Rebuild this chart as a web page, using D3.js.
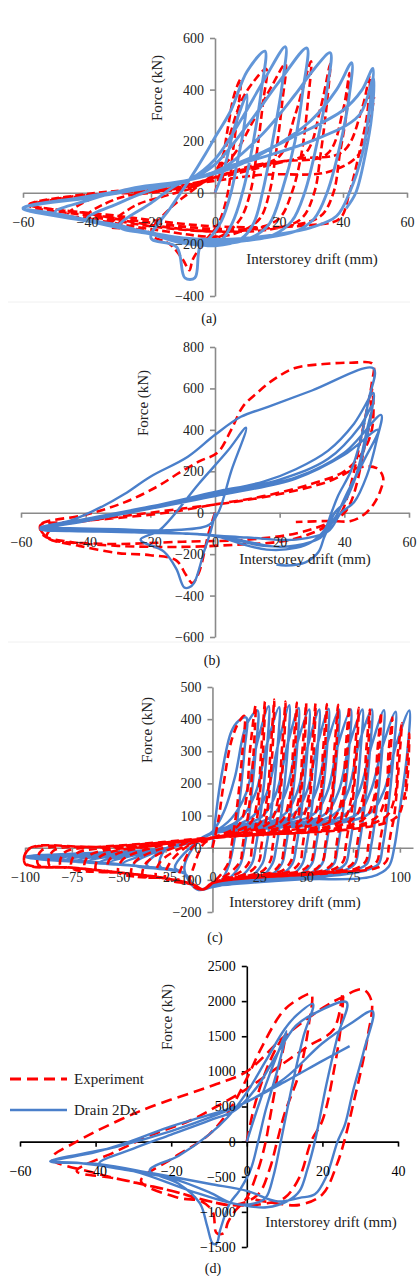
<!DOCTYPE html>
<html>
<head>
<meta charset="utf-8">
<script src="https://cdn.jsdelivr.net/npm/d3@7"></script>
<style>
  body { margin: 0; background: #fff; }
  svg { display: block; }
  text { font-family: "Liberation Serif", "Times New Roman", serif; }
</style>
</head>
<body>
<svg id="chart" width="418" height="1276"></svg>
<script>
// ---- (a) ----
const aXTicks = [-60, -40, -20, 0, 20, 40, 60];
const aYTicks = [-400, -200, 0, 200, 400, 600];
const aExp = [
  [0,0],[2,100],[4,250],[6,380],[8,440],
  [7,300],[5.5,150],[4,0],[1,-120],[-4,-200],[-7,-260],[-8,-300],[-10,-260],[-14,-200],[-20,-160],
  [-14,-60],[-8,0],[-4,40],[0,80],[4,200],[8,350],[12,430],[16,480],
  [15,350],[13,150],[11,0],[8,-100],[3,-160],[-5,-190],[-15,-170],[-25,-140],[-33,-130],
  [-25,-50],[-15,-10],[-5,30],[0,80],[6,150],[12,280],[18,420],[22,500],
  [21,350],[19,150],[17,0],[14,-100],[8,-150],[0,-170],[-15,-150],[-30,-120],[-40,-90],
  [-30,-20],[-20,0],[-8,20],[0,60],[10,100],[20,140],[25,300],[30,510],
  [29,350],[27,150],[24,0],[20,-100],[12,-140],[0,-150],[-20,-130],[-35,-100],[-46,-85],
  [-36,-10],[-25,0],[-10,20],[0,60],[15,110],[28,150],[33,330],[36,500],
  [35,350],[33,150],[31,0],[27,-100],[18,-140],[0,-150],[-20,-125],[-40,-80],[-58,-46],
  [-45,-15],[-30,0],[-10,25],[0,60],[20,120],[35,150],[40,320],[42,464],
  [41,300],[39,150],[37,0],[33,-90],[22,-130],[0,-140],[-30,-100],[-58,-50],
  [-40,-10],[-20,10],[0,55],[25,130],[40,160],[46,330],[48.4,456],
  [47.5,300],[45,150],[42,0],[39,-100],[30,-125],[0,-130],[-30,-90],[-58,-45],
  [-40,-5],[-10,30],[15,70],[35,80],[45,150],[49.7,372]
];
const aModel = [
  [0,0],[3,100],[6,250],[10,380],
  [9,250],[7,120],[5,0],[2,-110],[-2,-180],[-4.7,-210],[-6.3,-330],[-9.4,-330],[-12,-210],[-20,-175],
  [-14,-60],[-8,50],[-3,150],[0,215],[5,320],[10,470],[15.6,549],
  [14.5,400],[12,200],[9,20],[6,-100],[3,-170],[0,-200],[-10,-195],[-20,-160],[-30,-130],
  [-20,-40],[-12,30],[-8,50],[0,130],[8,280],[15,430],[22,566],
  [21,420],[18,200],[15,10],[12,-120],[8,-180],[0,-205],[-10,-190],[-20,-160],[-30,-125],[-40,-100],
  [-30,-40],[-20,10],[-8,50],[0,110],[10,260],[20,430],[28.7,561],
  [27.5,400],[25,200],[21,10],[17,-120],[12,-170],[5,-195],[-5,-195],[-20,-160],[-35,-115],[-50,-75],
  [-40,-30],[-25,20],[-8,50],[3,100],[15,230],[25,380],[31,480],[36,543],
  [35,400],[32,200],[28,0],[24,-110],[18,-165],[10,-185],[0,-195],[-15,-170],[-30,-130],[-45,-95],[-60,-62],
  [-45,-25],[-30,5],[-15,30],[-8,50],[5,95],[20,190],[30,280],[38,400],[42.7,504],
  [42,380],[39,180],[35,0],[31,-100],[25,-150],[15,-175],[0,-190],[-20,-160],[-40,-110],[-60,-60],
  [-40,-20],[-20,20],[-8,50],[10,130],[25,220],[40,320],[46,400],[49.3,482],
  [48.5,350],[46,150],[42,0],[38,-90],[30,-135],[20,-160],[5,-180],[-10,-175],[-30,-130],[-50,-80],[-60,-58],
  [-40,-15],[-20,25],[-8,50],[10,120],[30,200],[45,300],[49.5,445],
  [49,300],[47,150],[44,0],[41,-60]
];

// ---- (b) ----
const bXTicks = [-60, -40, -20, 0, 20, 40, 60];
const bYTicks = [-600, -400, -200, 0, 200, 400, 600, 800];
const bExp = [
  [0,0],[-2,-100],[-5,-290],[-7,-340],[-9,-300],[-12,-230],[-20,-205],[-30,-195],[-42,-160],[-52,-120],[-54,-60],
  [-40,-10],[-28,50],[-18,125],[-11,193],[-4.6,250],[0.8,290],[5,400],[8.6,512],[13,578],[18,641],[24.5,697],[33.7,718],[42,724],[48.8,718],
  [48.5,627],[47,500],[45,350],[43,200],[41,80],[39,0],[35,-60],[28,-110],[20,-140],[6,-155],[-10,-165],[-30,-160],[-45,-140],[-53,-110],
  [-54,-60],[-45,-45],[-30,-25],[-15,0],[0,40],[15,80],[30,140],[40,200],[46,300],[48.5,400],[49,520],[48.5,600],
  [48,450],[46,300],[44,150],[42,50],[40,0],[35,-50],[25,-100],[10,-130],[-10,-140],[-35,-150],[-52,-120],
  [-50,-70],[-40,-40],[-25,-10],[-10,20],[5,50],[20,90],[35,150],[45,220],[50,215],[52,170],[51,100],[49,40],[46,-10],[42,-40],[35,-40],[25,-45]
];
const bModel = [
  [0,0],[-1.2,-82],[-3.4,-188],[-6.5,-340],[-8,-361],[-9.5,-361],[-12,-270],[-15.8,-188],[-23,-130],
  [-17,-82],[-5,140],[4,300],[9.6,410],
  [5,200],[1,0],[-2,-60],[-15,-85],[-30,-80],[-45,-75],[-54,-70],
  [-45,-40],[-35,29],[-28,90],[-20,174],[-8.4,270],[0,376],[8,463],[16.4,511],[30,590],[49,697],
  [47.5,545],[45,350],[42,200],[38,80],[36,0],[34,-80],[30,-140],[25,-170],[16,-178],[8,-150],[1,-116],[-10,-100],[-30,-90],[-54,-80],
  [-40,-30],[-20,30],[0,100],[15,150],[25,210],[35,300],[43,430],[49,578],
  [48,450],[46,300],[43,150],[40,50],[37,0],[35,-60],[33,-116],[30,-140],[20,-165],[10,-140],[0,-110],[-20,-95],[-40,-85],[-54,-75],
  [-40,-35],[-20,25],[0,90],[20,160],[35,260],[45,420],[48.7,520],
  [47,400],[44,200],[40,50],[37,0],[34,-100],[28,-150],[15,-160],[0,-110],[-25,-95],[-52,-78],
  [-40,-40],[-20,20],[0,85],[25,170],[40,290],[51.4,472],
  [50,350],[47,180],[43,50],[39,0],[35,-90],[25,-130],[10,-120],[-20,-90],[-50,-70],
  [-30,-10],[0,80],[25,165],[40,280],[50.4,400],
  [46,250],[41,100],[38,0],[34,-110],[32,-190],[28,-240],[22,-255],[19,-250]
];

// ---- (c) ----
const cXTicks = [-100, -75, -50, -25, 0, 25, 50, 75, 100];
const cYTicks = [-200, -100, 0, 100, 200, 300, 400, 500];
const cExp = [
  [0,0],[3,80],[6,200],[10,330],[14,390],[17,410],
  [16,300],[13,120],[11,40],[10,0],[9,-40],[5,-80],[0,-110],[-5,-130],[-12,-110],
  [-10,-60],[-5,10],[0,30],[14,70],[18,150],[20,300],[23,443],
  [22,300],[19,100],[17,40],[16,0],[15,-40],[10,-75],[0,-110],[-5,-130],[-10,-115],[-18,-102],
  [-16,-55],[-10,5],[0,30],[20,75],[24,150],[26,300],[28,455],
  [27,300],[24,100],[22,40],[21,0],[20,-40],[15,-75],[0,-110],[-5,-130],[-10,-115],[-25,-95],
  [-23,-50],[-12,10],[0,30],[25,75],[29,150],[31,300],[33,461],
  [32,300],[29,100],[27,40],[26,0],[25,-40],[20,-75],[5,-100],[0,-110],[-5,-130],[-10,-115],[-25,-95],[-30,-90],
  [-28,-45],[-12,12],[0,30],[30,77],[35,150],[37,300],[39,455],
  [38,300],[35,100],[33,40],[32,0],[31,-40],[26,-75],[10,-95],[0,-110],[-5,-130],[-10,-115],[-25,-95],[-37,-87],
  [-35,-45],[-15,12],[0,30],[36,78],[41,150],[43,300],[45,452],
  [44,300],[41,100],[39,40],[38,0],[37,-40],[32,-75],[15,-90],[0,-110],[-5,-130],[-10,-115],[-25,-95],[-43,-83],
  [-41,-42],[-20,10],[0,30],[41,78],[46,150],[48,300],[50,450],
  [49,300],[46,100],[44,40],[43,0],[42,-40],[37,-72],[20,-88],[0,-110],[-5,-130],[-10,-115],[-25,-95],[-50,-77],
  [-48,-38],[-25,10],[0,30],[46,80],[51,150],[53,300],[55,449],
  [54,300],[51,100],[49,40],[48,0],[47,-40],[42,-72],[25,-86],[0,-110],[-5,-130],[-10,-115],[-25,-95],[-50,-77],[-56,-73],
  [-54,-30],[-30,8],[0,30],[51,80],[57,150],[59,300],[61,447],
  [60,300],[57,100],[55,40],[54,0],[53,-40],[48,-70],[30,-85],[0,-110],[-5,-130],[-10,-115],[-25,-95],[-50,-77],[-62,-70],
  [-60,-28],[-30,8],[0,30],[57,82],[63,150],[65,300],[67,445],
  [66,300],[63,100],[61,40],[60,0],[59,-40],[54,-70],[35,-84],[0,-110],[-5,-130],[-10,-115],[-25,-95],[-50,-77],[-68,-66],
  [-66,-25],[-35,6],[0,30],[63,82],[69,150],[71,300],[73,440],
  [72,300],[69,100],[67,40],[66,0],[65,-40],[60,-68],[40,-83],[0,-110],[-5,-130],[-10,-115],[-25,-95],[-50,-77],[-75,-62],
  [-73,-20],[-40,5],[0,30],[69,84],[74,150],[76,300],[78,435],
  [77,300],[74,100],[72,40],[71,0],[70,-40],[65,-66],[45,-82],[0,-110],[-5,-130],[-10,-115],[-25,-95],[-50,-77],[-75,-62],[-81,-58],
  [-79,-15],[-45,4],[0,30],[74,85],[80,150],[82,300],[84,430],
  [83,300],[80,100],[78,40],[77,0],[76,-40],[71,-65],[50,-80],[0,-110],[-5,-130],[-10,-115],[-25,-95],[-50,-77],[-75,-62],[-87,-55],
  [-85,-10],[-50,3],[0,30],[80,86],[86,150],[88,300],[90,420],
  [89,300],[86,100],[84,40],[83,0],[82,-40],[77,-64],[55,-80],[0,-110],[-5,-130],[-10,-115],[-25,-95],[-50,-77],[-75,-62],[-93,-52],
  [-91,-8],[-55,2],[0,30],[86,88],[92,150],[94,300],[96,405],
  [95,300],[92,100],[90,40],[89,0],[88,-40],[83,-63],[60,-79],[0,-110],[-5,-130],[-10,-115],[-25,-95],[-50,-77],[-75,-62],[-100,-50],
  [-98,-5],[-60,2],[0,30],[91,90],[97,150],[99,300],[101,387],
  [100,300],[97,100],[95,40],[94,0],[93,-40],[88,-62],[65,-78],[0,-110],[-5,-130],[-10,-115],[-25,-95],[-50,-77],[-75,-62],[-100,-48],
  [-98,-3],[-60,3],[0,32],[97,90],[102,150],[104,280],[105,356],[104.5,250],[103,150]
];
const cModel = [
  [0,0],[2,110],[5,230],[10,360],[14,395],[18,405],
  [17,300],[14,120],[11,0],[9,-50],[5,-100],[0,-120],[-8,-130],[-15,-65],
  [-7,25],[0,50],[6,110],[12,220],[18,380],[24,427],
  [23,300],[20,120],[17,0],[15,-50],[10,-90],[0,-118],[-8,-130],[-15,-80],[-20,-62],
  [-7,25],[0,45],[10,90],[18,170],[24,330],[30,440],
  [29,300],[26,120],[23,0],[21,-50],[15,-90],[0,-120],[-8,-130],[-15,-80],[-28,-58],
  [-25,-5],[-7,25],[0,45],[15,90],[23,170],[29,320],[35.6,437],
  [34.6,300],[31.6,120],[28.6,0],[26.6,-50],[20,-92],[0,-122],[-8,-130],[-15,-80],[-35,-55],
  [-25,-3],[-7,25],[0,45],[21,95],[29,170],[35,320],[41,443],
  [40,300],[37,120],[34,0],[32,-50],[26,-90],[10,-100],[0,-120],[-8,-130],[-15,-80],[-42,-52],
  [-25,-2],[-7,25],[0,45],[26,95],[34,170],[40,320],[46,435],
  [45,300],[42,120],[39,0],[37,-50],[31,-85],[15,-98],[0,-120],[-8,-130],[-15,-80],[-40,-57],[-48,-50],
  [-25,-2],[-7,25],[0,45],[31,95],[39,170],[45,320],[51.6,430],
  [50.6,300],[47.6,120],[44.6,0],[42.6,-50],[36,-85],[20,-97],[0,-120],[-8,-130],[-15,-80],[-40,-57],[-55,-47],
  [-25,-2],[-7,25],[0,45],[37,97],[45,170],[51,320],[57,430],
  [56,300],[53,120],[50,0],[48,-50],[42,-85],[25,-96],[0,-120],[-8,-130],[-15,-80],[-40,-57],[-60,-45],
  [-25,-2],[-7,25],[0,45],[42,98],[50,170],[56,320],[62,432],
  [61,300],[58,120],[55,0],[53,-50],[47,-82],[30,-95],[0,-120],[-8,-130],[-15,-80],[-40,-57],[-66,-42],
  [-25,-2],[-7,25],[0,45],[47,100],[55,170],[61,320],[67.5,430],
  [66.5,300],[63.5,120],[60.5,0],[58.5,-50],[52,-80],[35,-94],[0,-120],[-8,-130],[-15,-80],[-40,-57],[-72,-40],
  [-25,-2],[-7,25],[0,45],[53,100],[61,170],[67,320],[73.8,430],
  [72.8,300],[69.8,120],[66.8,0],[64.8,-50],[58,-78],[40,-93],[0,-120],[-8,-130],[-15,-80],[-40,-57],[-78,-37],
  [-25,-2],[-7,25],[0,45],[59,100],[67,170],[73,320],[80,430],
  [79,300],[76,120],[73,0],[71,-50],[64,-75],[45,-92],[0,-120],[-8,-130],[-15,-80],[-40,-57],[-84,-35],
  [-25,-2],[-7,25],[0,45],[64,100],[72,170],[78,320],[85,430],
  [84,300],[81,120],[78,0],[76,-50],[69,-74],[50,-92],[0,-120],[-8,-130],[-15,-80],[-40,-57],[-90,-33],
  [-25,-2],[-7,25],[0,45],[70,100],[78,170],[85,320],[91.5,428],
  [90.5,300],[87.5,120],[84.5,0],[82.5,-50],[75,-72],[55,-91],[0,-120],[-8,-130],[-15,-80],[-40,-57],[-95,-31],
  [-25,-2],[-7,25],[0,45],[76,100],[84,170],[91,320],[97.7,423],
  [96.7,300],[93.7,120],[90.7,0],[88.7,-50],[82,-70],[60,-90],[0,-120],[-8,-130],[-15,-80],[-40,-57],[-100,-29],
  [-25,-2],[-7,25],[0,45],[82,100],[91,170],[98,320],[105,427],
  [104,300],[100,120],[97,0],[94,-59],[85,-90],[46,-99],[0,-120],[-8,-130],[-15,-80],[-40,-57],[-100,-27]
];

// ---- (d) ----
const dXTicks = [-60, -40, -20, 0, 20, 40];
const dYTicks = [-1500, -1000, -500, 0, 500, 1000, 1500, 2000, 2500];
const dExp = [
  [0,0],[2,500],[5,1000],[8,1350],[10,1500],
  [8,900],[6,300],[5,0],[3,-400],[0,-800],[-3,-980],[-5,-1150],[-6,-1300],[-8,-1300],[-9,-1000],[-12,-850],[-18,-800],[-28,-560],
  [-20,-250],[-10,100],[-4,500],[0,900],[4,1350],[9.6,1856],[14,2040],[17,2100],
  [16.5,1700],[14,1000],[10,400],[8,0],[6,-400],[3,-750],[-3,-900],[-10,-850],[-20,-700],[-35,-520],[-45,-420],
  [-35,-150],[-25,100],[-15,300],[-8,500],[0,750],[8,1050],[16,1350],[23,1600],[25.4,2115],
  [25,1700],[23,1000],[20,300],[17,0],[14,-500],[10,-800],[5,-880],[-5,-900],[-20,-700],[-40,-450],[-51.6,-240],
  [-45,0],[-28,440],[-8,820],[0,1000],[10,1500],[20,1900],[25,2050],[30.7,2167],[33,2000],
  [32,1500],[30,960],[28,500],[26,50],[24,-300],[20,-750],[14,-900],[8,-880],[0,-800]
];
const dModel = [
  [0,0],[3,500],[6,950],[8.5,1300],[10.5,1573],
  [8,1000],[5,450],[3,0],[1,-400],[-2,-700],[-4.5,-880],[-7,-1250],[-8,-1450],[-9,-1450],[-10.5,-1200],[-12.4,-880],[-18,-600],[-25.7,-410],
  [-18,-200],[-10,100],[-5,350],[0,700],[5,1150],[10,1600],[13.2,1800],[17.5,1960],
  [15,1500],[12,800],[9,0],[7,-500],[5,-800],[2,-880],[-3.7,-880],[-10,-720],[-20,-520],[-30,-420],[-39,-307],
  [-30,-100],[-20,100],[-10,300],[-3,450],[3,800],[8,1250],[13,1650],[17,1800],[26.4,1984],
  [24,1500],[21,800],[18,0],[16,-400],[14,-700],[11,-840],[5.3,-935],[-3.7,-880],[-15,-700],[-30,-420],[-45,-300],[-51.7,-283],
  [-40,-150],[-31,0],[-21,200],[-10,380],[-1,540],[10,900],[20,1400],[28,1700],[33.3,1856],
  [31,1300],[28,700],[26,250],[24,0],[21,-500],[18,-750],[14,-800],[8,-850],[0,-700],[-10,-600],[-25,-450],[-39,-320],[-52,-280],
  [-35,-80],[-20,150],[-8,380],[-1,540],[10,850],[20,1150],[27.2,1360]
];

const legendLabels = ['Experiment', 'Drain 2Dx'];

const panels = [
  { exp: aExp, model: aModel, xTicks: aXTicks, yTicks: aYTicks, caption: '(a)',
    xDomain: [-60, 60], xRange: [23, 407], yDomain: [-400, 600], yRange: [296, 38],
    yTitle: [157, 88], xTitle: [312, 259], cap: [209, 318], border: 302,
    axisColor: '#8a8a8a', blue: '#6296d8', blueWidth: 2.9, dash: '8,4', redOnTop: false },
  { exp: bExp, model: bModel, xTicks: bXTicks, yTicks: bYTicks, caption: '(b)',
    xDomain: [-60, 60], xRange: [21, 409], yDomain: [-600, 800], yRange: [637, 347],
    yTitle: [143, 403], xTitle: [305, 559], cap: [212, 660], border: 642,
    axisColor: '#8a8a8a', blue: '#4a7fca', blueWidth: 2.4, dash: '9,5', redOnTop: false },
  { exp: cExp, model: cModel, xTicks: cXTicks, yTicks: cYTicks, caption: '(c)',
    xDomain: [-100, 107], xRange: [25, 413], yDomain: [-200, 500], yRange: [912, 687],
    yTitle: [147, 730], xTitle: [295, 902], cap: [215, 937], border: null,
    axisColor: '#8a8a8a', blue: '#4d82cd', blueWidth: 2.5, dash: '8,5', redOnTop: true },
  { exp: dExp, model: dModel, xTicks: dXTicks, yTicks: dYTicks, caption: '(d)',
    xDomain: [-60, 40], xRange: [20, 398], yDomain: [-1500, 2500], yRange: [1247, 966],
    yTitle: [167, 1017], xTitle: [331, 1222], cap: [213, 1268], border: null,
    axisColor: '#000', blue: '#4a7fca', blueWidth: 2.4, dash: '11,6', redOnTop: false, legend: true }
];

const svg = d3.select('#chart');

panels.forEach(p => {
  const x = d3.scaleLinear().domain(p.xDomain).range(p.xRange);
  const y = d3.scaleLinear().domain(p.yDomain).range(p.yRange);
  const g = svg.append('g');

  if (p.border) {
    g.append('line')
      .attr('x1', 8).attr('x2', 410)
      .attr('y1', p.border).attr('y2', p.border)
      .attr('stroke', '#f0f0f0').attr('stroke-width', 1);
  }

  const xAxis = d3.axisBottom(x).tickValues(p.xTicks).tickSize(5).tickSizeOuter(0)
    .tickPadding(19).tickFormat(d3.format('d'));
  const yAxis = d3.axisLeft(y).tickValues(p.yTicks).tickSize(5).tickSizeOuter(0)
    .tickPadding(6).tickFormat(d3.format('d'));

  // Ejes (lineas)
  const styleAxis = sel => {
    sel.select('.domain').attr('stroke', p.axisColor).attr('stroke-width', 1.6);
    sel.selectAll('.tick line').attr('stroke', p.axisColor).attr('stroke-width', 1.6);
    sel.selectAll('text').remove();
  };
  g.append('g').attr('transform', `translate(0,${y(0)})`).call(xAxis).call(styleAxis);
  g.append('g').attr('transform', `translate(${x(0)},0)`).call(yAxis).call(styleAxis);

  const line = d3.line()
    .x(d => x(d[0]))
    .y(d => y(d[1]))
    .curve(d3.curveCatmullRom.alpha(0.5));

  const drawExp = () => g.append('path')
    .datum(p.exp)
    .attr('d', line)
    .attr('fill', 'none')
    .attr('stroke', '#ff0000')
    .attr('stroke-width', 2.6)
    .attr('stroke-dasharray', p.dash);

  const drawModel = () => g.append('path')
    .datum(p.model)
    .attr('d', line)
    .attr('fill', 'none')
    .attr('stroke', p.blue)
    .attr('stroke-width', p.blueWidth)
    .attr('stroke-linejoin', 'round');

  if (p.redOnTop) { drawModel(); drawExp(); } else { drawExp(); drawModel(); }

  // Etiquetas de ticks encima de las curvas
  const styleLabels = sel => {
    sel.select('.domain').remove();
    sel.selectAll('.tick line').remove();
    sel.selectAll('text')
      .attr('fill', p.axisColor === '#000' ? '#000' : '#222')
      .style('font-size', '14px')
      .style('font-family', '"Liberation Serif", serif');
  };
  g.append('g').attr('transform', `translate(0,${y(0)})`).call(xAxis).call(styleLabels);
  g.append('g').attr('transform', `translate(${x(0)},0)`).call(yAxis).call(styleLabels);

  g.append('text')
    .attr('transform', `translate(${p.yTitle[0]},${p.yTitle[1]}) rotate(-90)`)
    .attr('text-anchor', 'middle')
    .attr('dominant-baseline', 'central')
    .style('font-size', '15px')
    .attr('fill', '#222')
    .text('Force (kN)');

  g.append('text')
    .attr('x', p.xTitle[0]).attr('y', p.xTitle[1])
    .attr('text-anchor', 'middle')
    .attr('dominant-baseline', 'central')
    .style('font-size', '15px')
    .attr('fill', '#222')
    .text('Interstorey drift (mm)');

  g.append('text')
    .attr('x', p.cap[0]).attr('y', p.cap[1])
    .attr('text-anchor', 'middle')
    .attr('dominant-baseline', 'central')
    .style('font-size', '14px')
    .attr('fill', '#111')
    .text(p.caption);

  if (p.legend) {
    const lg = g.append('g');
    const rows = [
      { label: legendLabels[0], color: '#ff0000', dash: '11,6', y: 1079, w: 3 },
      { label: legendLabels[1], color: p.blue, dash: null, y: 1110, w: 2.6 }
    ];
    rows.forEach(r => {
      lg.append('line')
        .attr('x1', 10).attr('x2', 67)
        .attr('y1', r.y).attr('y2', r.y)
        .attr('stroke', r.color)
        .attr('stroke-width', r.w)
        .attr('stroke-dasharray', r.dash);
      lg.append('text')
        .attr('x', 74).attr('y', r.y)
        .attr('dominant-baseline', 'central')
        .style('font-size', '15px')
        .attr('fill', '#222')
        .text(r.label);
    });
  }
});
</script>
</body>
</html>
